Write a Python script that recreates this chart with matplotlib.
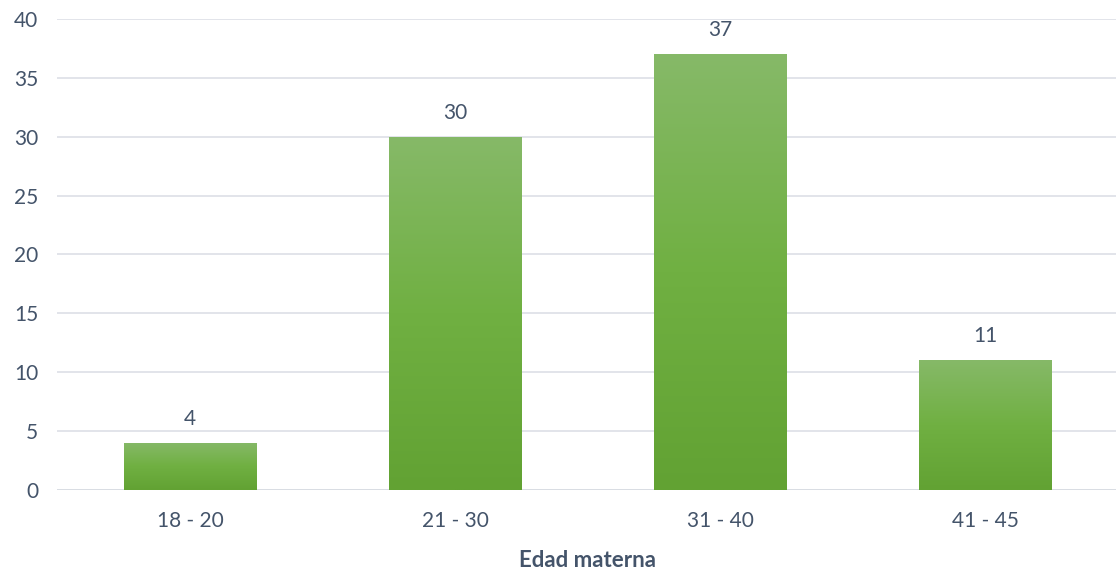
import numpy as np
import matplotlib.pyplot as plt
from matplotlib.colors import LinearSegmentedColormap

# Distribución por edad materna
grupos = ['18 - 20', '21 - 30', '31 - 40', '41 - 45']
casos = [4, 30, 37, 11]

texto = '#44546a'
plt.rcParams['font.family'] = ['Lato', 'DejaVu Sans']

fig = plt.figure(figsize=(11.16, 5.72), dpi=100)
ax = fig.add_axes([0.0515, 0.1434, 0.95, 0.8234])

x = np.arange(len(grupos))
barras = ax.bar(x, casos, width=0.5, color='none', edgecolor='none', zorder=3)

# degradado vertical en cada barra
verde = LinearSegmentedColormap.from_list('verde', ['#62a233', '#70b042', '#86b968'])
grad = np.linspace(0, 1, 256).reshape(-1, 1)
for b in barras:
    x0, y0 = b.get_x(), b.get_y()
    w, h = b.get_width(), b.get_height()
    im = ax.imshow(grad, cmap=verde, aspect='auto', origin='lower',
                   extent=[x0, x0 + w, y0, y0 + h], zorder=3)
    im.set_clip_path(b)

for xi, v in zip(x, casos):
    ax.text(xi, v + 1.2, str(v), ha='center', va='bottom', fontsize=15, color=texto)

ax.set_xlim(-0.5, len(grupos) - 0.5)
ax.set_ylim(0, 40)
ax.set_yticks(range(0, 41, 5))
ax.set_xticks(x)
ax.set_xticklabels(grupos)
ax.grid(axis='y', color='#dfe2e8', linewidth=1.3, zorder=0)
ax.tick_params(length=0, labelsize=15, colors=texto)
ax.tick_params(axis='x', pad=15)
ax.tick_params(axis='y', pad=14)
for s in ax.spines.values():
    s.set_visible(False)
ax.axhline(0, color='#d9dde3', linewidth=1.3, zorder=2)

ax.set_xlabel('Edad materna', fontsize=16, fontweight='bold', color=texto, labelpad=14)

fig.savefig('out.png', dpi=100)
